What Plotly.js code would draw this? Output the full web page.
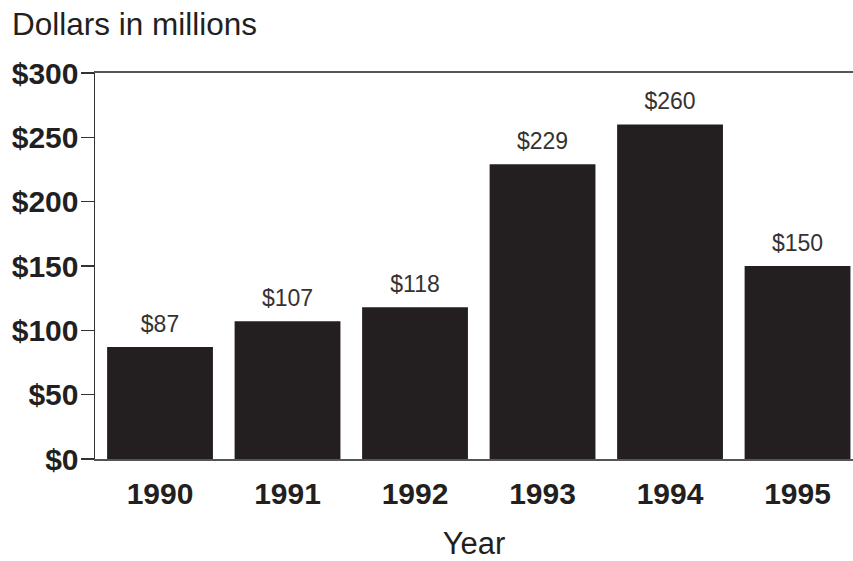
<!DOCTYPE html>
<html>
<head>
<meta charset="utf-8">
<script src="https://cdn.plot.ly/plotly-3.0.1.min.js"></script>
<style>html,body{margin:0;padding:0;background:#fff;}#chart{width:853px;height:561px;}</style>
</head>
<body>
<div id="chart"></div>
<script>
const years = ['1990', '1991', '1992', '1993', '1994', '1995'];
const values = [87, 107, 118, 229, 260, 150];
const valueLabels = ['$87', '$107', '$118', '$229', '$260', '$150'];
const yTickVals = [0, 50, 100, 150, 200, 250, 300];
const yTickText = ['$0', '$50', '$100', '$150', '$200', '$250', '$300'];

const FONT = 'Liberation Sans, Arial, Helvetica, sans-serif';
const DARK = '#231f20';

const bars = {
  type: 'bar',
  x: years,
  y: values,
  marker: { color: DARK, line: { width: 0 } },
  hoverinfo: 'skip'
};

const labels = {
  type: 'scatter',
  mode: 'markers+text',
  x: years,
  y: values,
  text: valueLabels,
  textposition: 'top center',
  cliponaxis: false,
  marker: { size: 14, color: 'rgba(0,0,0,0)' },
  textfont: { family: FONT, size: 23, color: '#333' },
  hoverinfo: 'skip'
};

const layout = {
  width: 853, height: 561,
  margin: { l: 95, r: 0, t: 73, b: 102 },
  paper_bgcolor: '#fff', plot_bgcolor: '#fff',
  showlegend: false,
  bargap: 0.17,
  title: {
    text: 'Dollars in millions',
    xref: 'container', yref: 'container',
    x: 12 / 853, xanchor: 'left',
    y: 1 - 24 / 561, yanchor: 'middle',
    font: { family: FONT, size: 31.5, color: DARK }
  },
  xaxis: {
    type: 'category',
    range: [-0.51, 5.435],
    showline: true, linecolor: '#555', linewidth: 2,
    mirror: true,
    ticks: '', showgrid: false, zeroline: false,
    ticklabelstandoff: 7,
    tickfont: { family: FONT, size: 30, color: DARK, weight: 'bold' },
    title: { text: 'Year', standoff: 24, font: { family: FONT, size: 31, color: DARK } }
  },
  yaxis: {
    range: [0, 300],
    tickvals: yTickVals, ticktext: yTickText,
    ticks: 'outside', ticklen: 13, tickcolor: '#333', tickwidth: 1.5,
    showline: true, linecolor: '#333', linewidth: 1.5,
    showgrid: false, zeroline: false,
    ticklabelstandoff: -4,
    tickfont: { family: FONT, size: 30, color: DARK, weight: 'bold' }
  }
};

Plotly.newPlot('chart', [bars, labels], layout, { staticPlot: true, displayModeBar: false });
</script>
</body>
</html>
